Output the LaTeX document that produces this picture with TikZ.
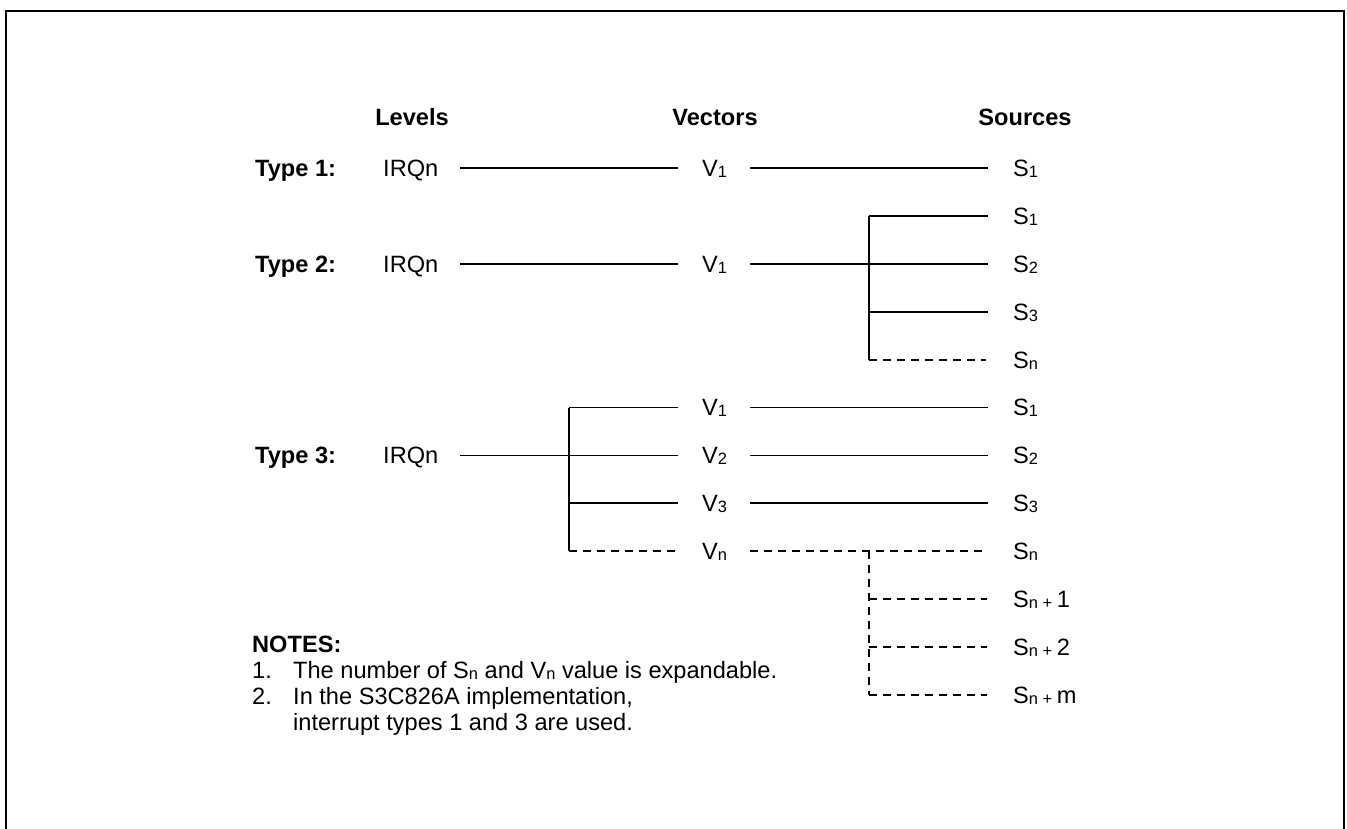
\documentclass[tikz,border=0pt]{standalone}
\usepackage{fontspec}
\setmainfont{Liberation Sans}
\newcommand\sbx[1]{\raisebox{-1pt}{\fontsize{16.4}{16}\selectfont #1}}
\begin{document}
\begin{tikzpicture}[x=1pt,y=-1pt,
  lbl/.style={font=\fontsize{23.6}{26}\selectfont, inner sep=0pt, anchor=west, text height=18.4pt, text depth=1.5pt},
  blbl/.style={lbl, font=\fontsize{23.6}{26}\selectfont\bfseries},
  hdr/.style={blbl, anchor=center},
  wire/.style={line width=1.8pt},
  dwire/.style={wire, dash pattern=on 8pt off 6pt},
  frame/.style={line width=2.6pt},
]
\useasboundingbox (0,0) rectangle (1347,828);
\clip (0,0) rectangle (1347,828);
\draw[frame] (6,840) -- (6,11) -- (1344,11) -- (1344,840);

% headers
\node[hdr] (hL) at (412,117) {Levels};
\node[hdr] (hV) at (715,117) {Vectors};
\node[hdr] (hS) at (1025,117) {Sources};

% Type 1
\node[blbl] (t1) at (255,168) {Type 1:};
\node[lbl] (i1) at (383,168) {IRQn};
\node[lbl] (v1) at (702,168) {V\sbx{1}};
\node[lbl] (s1) at (1013,168) {S\sbx{1}};
\draw[wire, shorten <=22pt, shorten >=24pt] (i1.east) -- (v1.west);
\draw[wire, shorten <=23pt, shorten >=25pt] (v1.east) -- (s1.west);

% Type 2
\node[blbl] (t2) at (255,263.8) {Type 2:};
\node[lbl] (i2) at (383,263.8) {IRQn};
\node[lbl] (v2) at (702,263.8) {V\sbx{1}};
\node[lbl] (s21) at (1013,215.9) {S\sbx{1}};
\node[lbl] (s22) at (1013,263.8) {S\sbx{2}};
\node[lbl] (s23) at (1013,311.7) {S\sbx{3}};
\node[lbl] (s2n) at (1013,359.6) {S\sbx{n}};
\coordinate (b2t) at (869,215.9);
\coordinate (b2m) at (869,311.7);
\coordinate (b2b) at (869,359.6);
\draw[wire, shorten <=22pt, shorten >=24pt] (i2.east) -- (v2.west);
\draw[wire, shorten <=23pt, shorten >=25pt] (v2.east) -- (s22.west);
\draw[wire] (b2t) -- (b2b);
\draw[wire, shorten >=25pt] (b2t) -- (s21.west);
\draw[wire, shorten >=25pt] (b2m) -- (s23.west);
\draw[dwire, shorten >=27pt] (b2b) -- (s2n.west);

% Type 3
\node[blbl] (t3) at (255,455.4) {Type 3:};
\node[lbl] (i3) at (383,455.4) {IRQn};
\node[lbl] (v31) at (702,407.5) {V\sbx{1}};
\node[lbl] (v32) at (702,455.4) {V\sbx{2}};
\node[lbl] (v33) at (702,503.3) {V\sbx{3}};
\node[lbl] (v3n) at (702,551.2) {V\sbx{n}};
\node[lbl] (s31) at (1013,407.5) {S\sbx{1}};
\node[lbl] (s32) at (1013,455.4) {S\sbx{2}};
\node[lbl] (s33) at (1013,503.3) {S\sbx{3}};
\node[lbl] (s3n) at (1013,551.2) {S\sbx{n}};
\node[lbl] (s3n1) at (1013,599.1) {S\sbx{n + }1};
\node[lbl] (s3n2) at (1013,647) {S\sbx{n + }2};
\node[lbl] (s3nm) at (1013,694.9) {S\sbx{n + }m};
\coordinate (b3t) at (569,407.5);
\coordinate (b3m) at (569,503.3);
\coordinate (b3b) at (569,551.2);
\draw[wire, shorten <=22pt, shorten >=24pt] (i3.east) -- (v32.west);
\draw[wire] (b3t) -- (b3b);
\draw[wire, shorten >=24pt] (b3t) -- (v31.west);
\draw[wire, shorten >=24pt] (b3m) -- (v33.west);
\draw[dwire, shorten >=24pt] (b3b) -- (v3n.west);
\draw[wire, shorten <=23pt, shorten >=25pt] (v31.east) -- (s31.west);
\draw[wire, shorten <=23pt, shorten >=25pt] (v32.east) -- (s32.west);
\draw[wire, shorten <=23pt, shorten >=25pt] (v33.east) -- (s33.west);
\draw[dwire, shorten <=23pt, shorten >=25pt] (v3n.east) -- (s3n.west);
\coordinate (c0) at (869,551.2);
\coordinate (c1) at (869,599.1);
\coordinate (c2) at (869,647);
\coordinate (c3) at (869,694.9);
\draw[dwire] (c0) -- (c3);
\draw[dwire, shorten >=26pt] (c1) -- (s3n1.west);
\draw[dwire, shorten >=26pt] (c2) -- (s3n2.west);
\draw[dwire, shorten >=26pt] (c3) -- (s3nm.west);

% notes
\node[blbl] (notes) at (252,644) {NOTES:};
\node[lbl] (n1a) at (252,670) {1.};
\node[lbl] (n1) at (293,670) {The number of S\sbx{n} and V\sbx{n} value is expandable.};
\node[lbl] (n2a) at (252,696) {2.};
\node[lbl] (n2) at (293,696) {In the S3C826A implementation,};
\node[lbl] (n3) at (293,722) {interrupt types 1 and 3 are used.};
\end{tikzpicture}
\end{document}
